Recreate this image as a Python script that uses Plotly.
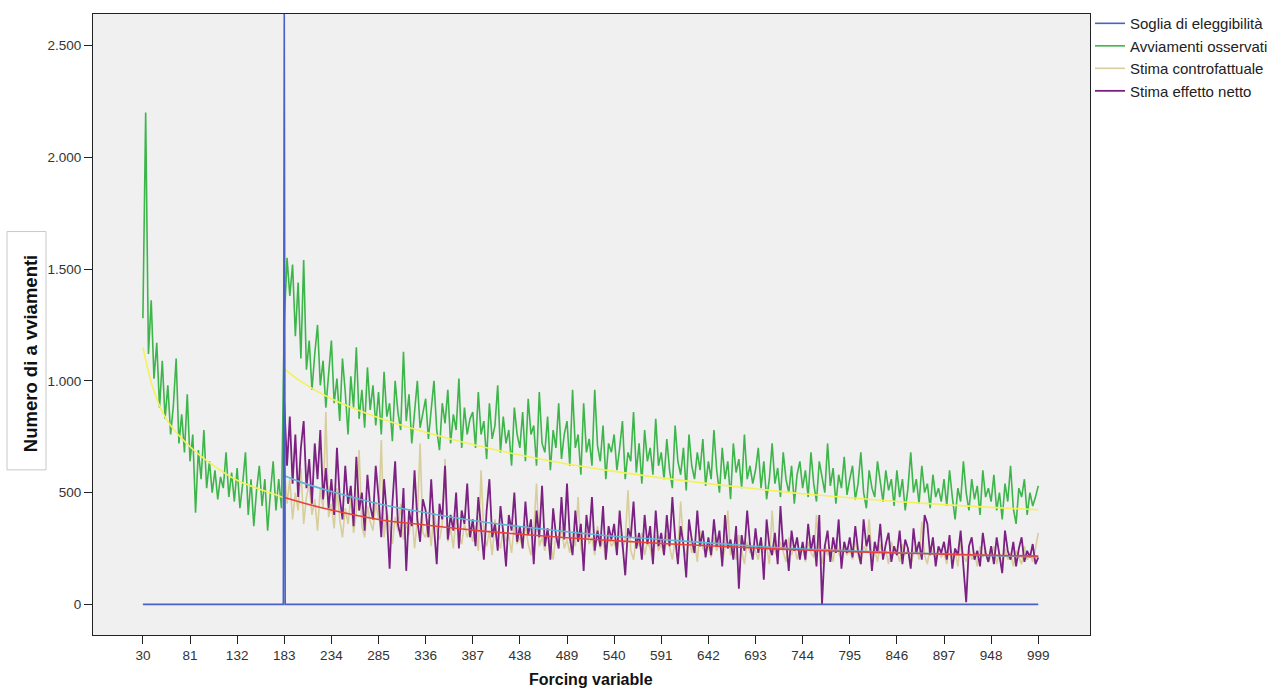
import plotly.graph_objects as go

# ---------------- data ----------------
step = 3
xs = list(range(30, 1000, step))          # categories 30..999 (sampled)
x_ticks = list(range(30, 1000, 51))
x_ticktext = [str(v) for v in x_ticks]
y_ticks = [0, 500, 1000, 1500, 2000, 2500]
y_ticktext = ["0", "500", "1.000", "1.500", "2.000", "2.500"]

threshold = 183
soglia_x = list(range(30, 1000))
soglia_peak = 2650

# Avviamenti osservati (green) before threshold, x = 30..180
green_pre = [1280, 2200, 1120, 1360, 1010, 1170, 880, 1090, 830, 980, 760, 890, 1100, 720, 850, 680, 940,
             640, 760, 410, 690, 560, 780, 520, 640, 500, 600, 470, 570, 520, 680, 480, 590, 460,
             610, 430, 540, 680, 400, 560, 350, 510, 620, 440, 560, 330, 500, 640, 420, 560, 430]
# after threshold, x = 183..999
green_post = [1260, 1550, 1380, 1520, 1200, 1440, 1100, 1540, 1050, 1180, 960, 1120, 1250, 980, 1090, 880, 1040,
              1180, 900, 1010, 820, 1100, 950, 760, 1020, 880, 1150, 830, 960, 790, 1060, 870, 980, 800,
              950, 760, 1040, 840, 900, 730, 1000, 860, 780, 1130, 820, 940, 720, 880, 1000, 790, 850,
              920, 740, 860, 1000, 780, 690, 900, 810, 960, 720, 850, 780, 1010, 700, 880, 760, 830,
              860, 700, 950, 760, 820, 650, 900, 740, 800, 980, 680, 840, 720, 780, 620, 880, 760,
              700, 860, 640, 920, 760, 800, 620, 950, 720, 680, 840, 600, 780, 700, 900, 650, 760,
              820, 620, 960, 700, 760, 580, 900, 680, 740, 620, 960, 710, 640, 800, 560, 720, 680,
              760, 600, 700, 820, 560, 680, 640, 860, 590, 720, 540, 780, 640, 700, 580, 830, 620,
              680, 560, 740, 600, 520, 800, 640, 580, 700, 510, 760, 620, 560, 680, 600, 740, 530,
              640, 560, 780, 600, 500, 700, 560, 640, 470, 720, 590, 650, 520, 760, 560, 620, 540,
              600, 700, 520, 640, 470, 560, 720, 540, 610, 480, 680, 560, 500, 620, 450, 580, 640,
              520, 600, 480, 680, 540, 460, 640, 560, 500, 720, 530, 610, 450, 580, 520, 660, 490,
              560, 620, 470, 540, 680, 500, 430, 600, 520, 480, 640, 540, 460, 600, 510, 560, 440,
              600, 480, 560, 420, 520, 680, 500, 560, 450, 620, 500, 540, 430, 580, 480, 520, 460,
              560, 440, 600, 480, 380, 520, 460, 640, 500, 420, 560, 470, 530, 400, 600, 480, 520,
              460, 580, 420, 500, 380, 540, 460, 620, 430, 360, 520, 480, 560, 400, 500, 440, 480,
              530]
green = green_pre + green_post

# Stima controfattuale (beige), x = 183..999
controfattuale = [620, 450, 560, 380, 500, 420, 610, 360, 480, 540, 400, 470, 330, 520, 430, 860, 390,
                  450, 340, 520, 380, 300, 430, 360, 480, 320, 410, 690, 350, 300, 440, 370, 330, 460,
                  380, 735, 300, 420, 340, 270, 390, 330, 450, 290, 360, 310, 420, 250, 380, 720, 320,
                  300, 380, 260, 420, 330, 290, 360, 650, 280, 340, 250, 400, 310, 270, 360, 300, 340,
                  280, 350, 240, 600, 310, 260, 330, 220, 380, 290, 250, 340, 280, 310, 230, 360, 270,
                  300, 250, 360, 270, 220, 330, 540, 260, 300, 240, 340, 280, 200, 310, 260, 350, 250,
                  290, 230, 320, 260, 480, 250, 210, 330, 270, 300, 220, 350, 250, 290, 200, 310, 260,
                  280, 230, 330, 250, 290, 510, 240, 200, 300, 260, 320, 220, 280, 250, 190, 310, 240,
                  270, 220, 310, 250, 200, 290, 240, 460, 260, 210, 300, 230, 280, 190, 330, 250, 230,
                  260, 210, 300, 240, 280, 190, 250, 420, 220, 270, 200, 310, 240, 180, 280, 230, 260,
                  240, 200, 290, 230, 260, 180, 420, 240, 210, 280, 230, 190, 300, 220, 260, 200, 250,
                  260, 190, 280, 230, 210, 400, 240, 180, 270, 220, 250, 190, 290, 230, 200, 260, 220,
                  250, 200, 290, 220, 180, 260, 240, 380, 210, 250, 190, 270, 220, 240, 180, 280, 230,
                  240, 190, 270, 220, 250, 170, 230, 260, 200, 370, 220, 180, 260, 230, 200, 250, 210,
                  230, 180, 260, 210, 240, 170, 280, 220, 190, 250, 200, 230, 170, 260, 210, 240, 190,
                  220, 260, 180, 230, 150, 250, 200, 230, 170, 240, 210, 180, 260, 200, 230, 190, 250,
                  320]

# Stima effetto netto (purple), x = 183..999
effetto = [900, 620, 840, 540, 760, 480, 700, 820, 520, 650, 450, 720, 560, 780, 470, 610, 430,
           560, 400, 700, 480, 380, 620, 450, 530, 350, 660, 420, 500, 330, 580, 440, 380, 620,
           480, 300, 560, 400, 160, 450, 640, 360, 300, 520, 150, 420, 350, 600, 380, 280, 470,
           420, 300, 560, 350, 180, 450, 380, 620, 290, 400, 330, 500, 250, 420, 360, 540, 300,
           380, 260, 480, 330, 200, 420, 560, 300, 360, 240, 440, 320, 170, 400, 330, 500, 280,
           350, 250, 460, 310, 380, 180, 420, 300, 530, 260, 340, 200, 430, 310, 250, 480, 290,
           540, 300, 220, 420, 280, 360, 150, 400, 300, 480, 240, 330, 260, 440, 200, 350, 290,
           360, 220, 420, 280, 130, 340, 300, 460, 250, 320, 200, 400, 270, 350, 180, 420, 260,
           320, 220, 400, 260, 480, 300, 180, 350, 270, 120, 380, 290, 230, 420, 260, 330, 210,
           300, 220, 380, 260, 330, 170, 400, 250, 290, 200, 350, 70, 310, 240, 420, 270, 200,
           340, 230, 300, 110, 380, 260, 220, 320, 180, 440, 250, 290, 150, 330, 240, 300, 200,
           280, 200, 360, 240, 310, 170, 400, 0, 260, 330, 190, 300, 230, 380, 160, 280, 230,
           300, 210, 350, 240, 180, 380, 260, 310, 150, 280, 230, 360, 200, 270, 320, 190, 260,
           220, 330, 180, 290, 250, 160, 340, 230, 280, 200, 400, 360, 220, 300, 170, 260, 230,
           280, 200, 310, 160, 250, 220, 330, 180, 10, 260, 300, 200, 240, 170, 320, 230, 190,
           260, 180, 300, 220, 140, 330, 240, 200, 280, 170, 250, 300, 190, 240, 210, 270, 180,
           210]

# fitted curves (not in legend)
fit_obs_pre_x = [30, 40, 50, 60, 81, 100, 132, 160, 182]
fit_obs_pre = [1150, 980, 870, 800, 705, 640, 555, 510, 478]
fit_x = [183, 200, 234, 285, 336, 387, 438, 489, 540, 591, 642, 693, 744, 795, 846, 897, 948, 999]
fit_obs_post = [1055, 1000, 920, 835, 770, 715, 668, 628, 595, 566, 540, 517, 495, 477, 460, 446, 434, 423]
fit_netto = [575, 548, 505, 450, 410, 375, 348, 325, 305, 290, 275, 260, 248, 240, 232, 225, 218, 212]
fit_contro = [478, 458, 422, 380, 355, 332, 314, 298, 285, 272, 262, 252, 243, 236, 230, 225, 220, 216]

# ---------------- figure ----------------
soglia = [soglia_peak if v == threshold else 0 for v in soglia_x]
i0 = xs.index(threshold)
x_post = xs[i0:]

fig = go.Figure()
fig.add_trace(go.Scatter(x=xs[:len(green)], y=green, mode="lines", name="Avviamenti osservati",
                         line=dict(color="#3db54a", width=1.6), legendrank=2))
fig.add_trace(go.Scatter(x=x_post[:len(controfattuale)], y=controfattuale, mode="lines",
                         name="Stima controfattuale", line=dict(color="#d8cd9c", width=1.6), legendrank=3))
fig.add_trace(go.Scatter(x=x_post[:len(effetto)], y=effetto, mode="lines", name="Stima effetto netto",
                         line=dict(color="#7b2182", width=1.8), legendrank=4))
fig.add_trace(go.Scatter(x=fit_obs_pre_x, y=fit_obs_pre, mode="lines", line_shape="spline",
                         line=dict(color="#f2f25a", width=1.6), showlegend=False))
fig.add_trace(go.Scatter(x=fit_x, y=fit_obs_post, mode="lines", line_shape="spline",
                         line=dict(color="#f2f25a", width=1.6), showlegend=False))
fig.add_trace(go.Scatter(x=fit_x, y=fit_netto, mode="lines", line_shape="spline",
                         line=dict(color="#5db6d4", width=1.6), showlegend=False))
fig.add_trace(go.Scatter(x=fit_x, y=fit_contro, mode="lines", line_shape="spline",
                         line=dict(color="#e8413c", width=1.6), showlegend=False))
fig.add_trace(go.Scatter(x=soglia_x, y=soglia, mode="lines", name="Soglia di eleggibilità",
                         line=dict(color="#4a60c4", width=1.6), legendrank=1))

W, H = 1286, 689
L, R, T, B = 93, 196, 7, 54
pw, ph = W - L - R, H - T - B

def px(xw):
    return (xw - L) / pw

def py(yw):
    return (H - B - yw) / ph

axis_font = dict(family="Liberation Sans, Arial, sans-serif", size=13.5, color="#333333")
fig.update_layout(
    width=W, height=H, autosize=False,
    margin=dict(l=L, r=R, t=T, b=B, pad=0),
    plot_bgcolor="#f0f0f0", paper_bgcolor="white",
    font=dict(family="Liberation Sans, Arial, sans-serif", color="#222222"),
    xaxis=dict(range=[-24, 1055], tickvals=x_ticks, ticktext=x_ticktext, ticks="outside", ticklen=8,
               tickcolor="#222222", showline=True, linecolor="#222222", linewidth=1, mirror=True,
               showgrid=False, zeroline=False, tickfont=axis_font),
    yaxis=dict(range=[-137, 2641], tickvals=y_ticks, ticktext=y_ticktext, ticks="outside", ticklen=8,
               tickcolor="#222222", showline=True, linecolor="#222222", linewidth=1, mirror=True,
               showgrid=False, zeroline=False, tickfont=axis_font),
    legend=dict(x=px(1090), xanchor="left", y=py(0), yanchor="top",
                font=dict(size=15, color="#222222"), bgcolor="rgba(0,0,0,0)",
                tracegroupgap=0, itemwidth=30),
    showlegend=True,
)

# y-axis title in a framed box
fig.add_shape(type="rect", xref="paper", yref="paper",
              x0=px(7), x1=px(46), y0=py(468), y1=py(227),
              line=dict(color="#c8c8c8", width=1), fillcolor="white", layer="above")
fig.add_annotation(xref="paper", yref="paper", x=px(30), y=py(351),
                   text="<b>Numero di a vviamenti</b>", textangle=-90, showarrow=False,
                   font=dict(size=18.5, color="#111111"), xanchor="center", yanchor="middle")
fig.add_annotation(xref="paper", yref="paper", x=px(591), y=py(680),
                   text="<b>Forcing variable</b>", showarrow=False,
                   font=dict(size=16, color="#111111"), xanchor="center", yanchor="middle")

# remove the default page margin so the figure starts at the window's corner
fig.write_html("out.html", config={"displayModeBar": False},
               post_script="document.body.style.margin='0px';document.body.style.overflow='hidden';")
